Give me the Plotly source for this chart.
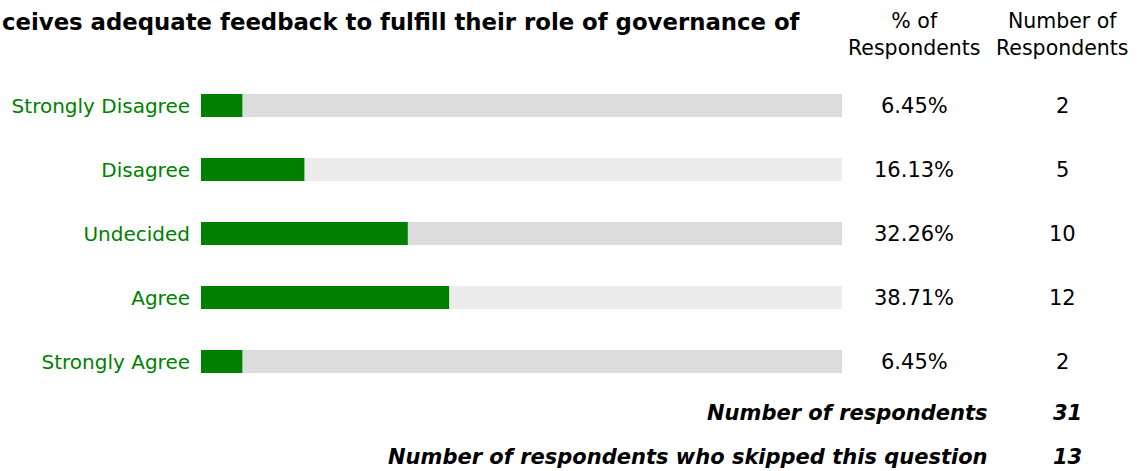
import plotly.graph_objects as go

# Daten
categories = ['Strongly Disagree', 'Disagree', 'Undecided', 'Agree', 'Strongly Agree']
percents = [6.45, 16.13, 32.26, 38.71, 6.45]
counts = [2, 5, 10, 12, 2]
total_respondents = 31
skipped = 13
title_text = 'ceives adequate feedback to fulfill their role of governance of'

W, H = 1148, 471
FONT = 'DejaVu Sans'
GREEN = '#008000'

bg_colors = ['#dcdcdc' if i % 2 == 0 else '#ececec' for i in range(len(categories))]

fig = go.Figure()
fig.add_trace(go.Bar(
    y=categories, x=[100] * len(categories), orientation='h',
    marker=dict(color=bg_colors, line=dict(width=0)),
    width=0.36, hoverinfo='skip', showlegend=False,
))
fig.add_trace(go.Bar(
    y=categories, x=percents, orientation='h',
    marker=dict(color=GREEN, line=dict(width=0)),
    width=0.36, showlegend=False,
    hovertemplate='%{y}: %{x:.2f}%<extra></extra>',
))

# Zeilenmitten bei ca. 105.5 .. 361.5 px, Abstand 64 px
row_y = [105.5 + 64 * i for i in range(len(categories))]
y_top = row_y[0] - 32
y_bot = row_y[-1] + 32
fig.update_layout(
    width=W, height=H,
    barmode='overlay',
    plot_bgcolor='white', paper_bgcolor='white',
    margin=dict(l=0, r=0, t=0, b=0),
    font=dict(family=FONT, size=21, color='black'),
    xaxis=dict(range=[0, 100], domain=[201 / W, 842 / W], visible=False, fixedrange=True),
    yaxis=dict(
        type='category', categoryarray=categories, range=[4.5, -0.5],
        domain=[1 - y_bot / H, 1 - y_top / H],
        showgrid=False, zeroline=False, showline=False,
        tickfont=dict(family=FONT, size=20, color=GREEN),
        ticklabelstandoff=10, fixedrange=True,
    ),
)


def px_x(x):
    return x / W


def px_y(y):
    return 1 - y / H


ann = []
ann.append(dict(x=0, y=px_y(22), xref='paper', yref='paper', xanchor='left', yanchor='middle',
                text='<b>' + title_text + '</b>', showarrow=False,
                font=dict(family=FONT, size=22.8, color='black')))
ann.append(dict(x=px_x(914), y=px_y(35), xref='paper', yref='paper', xanchor='center', yanchor='middle',
                text='% of<br>Respondents', showarrow=False, font=dict(size=20.5)))
ann.append(dict(x=px_x(1062), y=px_y(35), xref='paper', yref='paper', xanchor='center', yanchor='middle',
                text='Number of<br>Respondents', showarrow=False, font=dict(size=20.5)))

for i, (p, c) in enumerate(zip(percents, counts)):
    ann.append(dict(x=px_x(914), y=px_y(row_y[i]), xref='paper', yref='paper', xanchor='center', yanchor='middle',
                    text=f'{p:.2f}%', showarrow=False, font=dict(size=21)))
    ann.append(dict(x=px_x(1062), y=px_y(row_y[i]), xref='paper', yref='paper', xanchor='center', yanchor='middle',
                    text=str(c), showarrow=False, font=dict(size=21)))

foot = [('Number of respondents', total_respondents, 413),
        ('Number of respondents who skipped this question', skipped, 457)]
for label, val, yy in foot:
    ann.append(dict(x=px_x(990), y=px_y(yy), xref='paper', yref='paper', xanchor='right', yanchor='middle',
                    text='<b><i>' + label + '</i></b>', showarrow=False,
                    font=dict(family=FONT, size=21)))
    ann.append(dict(x=px_x(1067), y=px_y(yy), xref='paper', yref='paper', xanchor='center', yanchor='middle',
                    text='<b><i>' + str(val) + '</i></b>', showarrow=False,
                    font=dict(family=FONT, size=21)))

fig.update_layout(annotations=ann)

# Seitenrand des body entfernen, damit die Figur bündig bei 0/0 sitzt
fig.write_html('out.html', config={'displayModeBar': False},
               post_script="document.body.style.margin='0';")
